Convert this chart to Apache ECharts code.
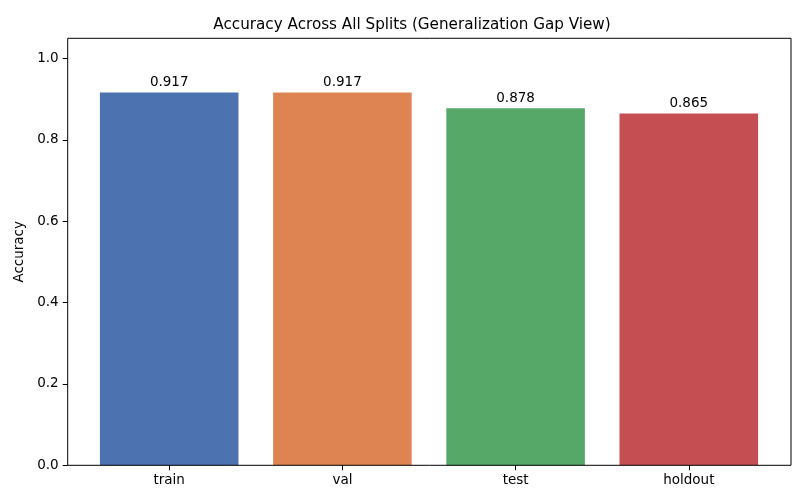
<!DOCTYPE html>
<html>
<head>
<meta charset="utf-8">
<script src="https://cdn.jsdelivr.net/npm/echarts@6/dist/echarts.min.js"></script>
<style>html,body{margin:0;padding:0;background:#fff}#c{width:806px;height:504px}</style>
</head>
<body>
<div id="c"></div>
<script>
const categories = ['train', 'val', 'test', 'holdout'];
const accuracy = [0.917, 0.917, 0.878, 0.865];
const barColors = ['#4C72B0', '#DD8452', '#55A868', '#C44E52'];
const yTicks = [0, 0.2, 0.4, 0.6, 0.8, 1.0];
const titleText = 'Accuracy Across All Splits (Generalization Gap View)';
const yName = 'Accuracy';

const FONT = 'DejaVu Sans';
const FS = 13.5;
const chart = echarts.init(document.getElementById('c'), null, {renderer: 'canvas'});
chart.setOption({
  animation: false,
  backgroundColor: '#fff',
  textStyle: {fontFamily: FONT},
  title: {
    text: titleText, left: 407, top: 13, textAlign: 'center',
    textStyle: {fontFamily: FONT, fontSize: 15.2, fontWeight: 'normal', color: '#000'}
  },
  grid: [
    {left: 82.6, right: 30.6, top: 38.3, bottom: 38.7},
    {left: 67.7, right: 15, top: 38.3, bottom: 38.7, show: true, borderColor: '#000', borderWidth: 1, backgroundColor: 'transparent', z: 10}
  ],
  xAxis: [
    {
      type: 'category', gridIndex: 0, data: categories,
      axisLine: {show: false},
      axisTick: {show: true, alignWithLabel: true, length: 5, lineStyle: {color: '#000'}},
      axisLabel: {color: '#000', fontSize: FS, margin: 8, fontFamily: FONT}
    },
    {type: 'value', gridIndex: 1, show: false, min: 0, max: 1}
  ],
  yAxis: [
    {
      type: 'value', gridIndex: 0, min: 0, max: 1.05, offset: 14.9,
      axisLine: {show: false},
      splitLine: {show: false},
      axisTick: {show: true, length: 5, lineStyle: {color: '#000'}, customValues: yTicks},
      axisLabel: {color: '#000', fontSize: FS, margin: 9, fontFamily: FONT, customValues: yTicks,
        formatter: v => v.toFixed(1)},
      name: yName, nameLocation: 'middle', nameGap: 40, nameRotate: 90,
      nameTextStyle: {color: '#000', fontSize: FS, fontFamily: FONT}
    },
    {type: 'value', gridIndex: 1, show: false, min: 0, max: 1}
  ],
  series: [{
    type: 'bar', xAxisIndex: 0, yAxisIndex: 0, barWidth: '80%',
    data: accuracy.map((v, i) => ({value: v, itemStyle: {color: barColors[i]}})),
    label: {show: true, position: 'top', distance: 3, color: '#000', fontSize: FS, fontFamily: FONT,
      formatter: p => p.value.toFixed(3)}
  }]
});
</script>
</body>
</html>
